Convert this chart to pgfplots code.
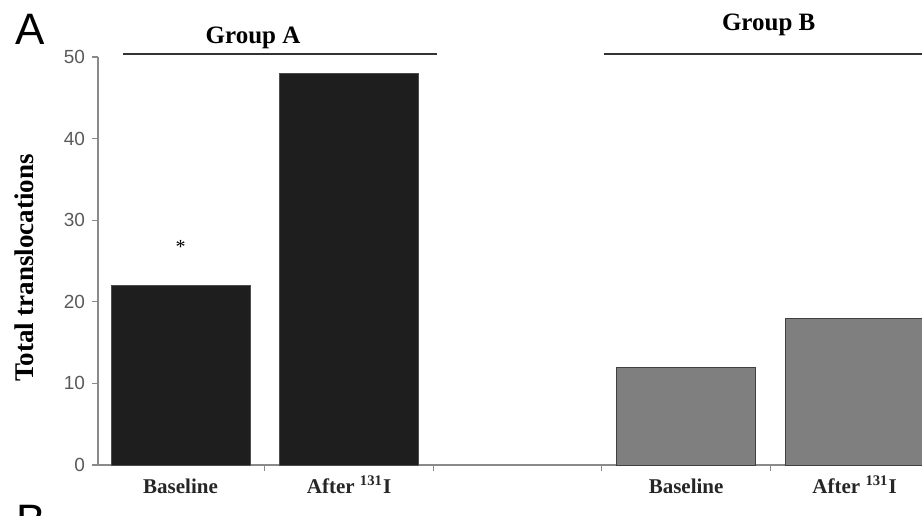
\documentclass[border=0pt]{standalone}
\usepackage{fontspec}
\setmainfont{Liberation Serif}
\newfontfamily\arial{Liberation Sans}
\usepackage{pgfplots}
\pgfplotsset{compat=1.18}
\definecolor{barblack}{HTML}{1E1E1E}
\definecolor{bargray}{HTML}{7F7F7F}
\definecolor{axgray}{HTML}{8A8A8A}
\definecolor{ticktext}{HTML}{5A5A5A}
\begin{document}
\begin{tikzpicture}
\useasboundingbox (0,0) rectangle (461pt,257.5pt);
\begin{axis}[
 at={(49pt,25pt)}, anchor=south west,
 scale only axis, width=412pt, height=204pt,
 xmin=-0.49, xmax=4.4, ymin=0, ymax=50,
 axis x line=bottom, axis y line=left,
 axis line style={-, axgray, line width=0.8pt},
 clip=false,
 ytick={0,10,20,30,40,50},
 yticklabel style={font=\arial\fontsize{9.5}{10}\selectfont, text=ticktext},
 /pgf/number format/assume math mode=true,
 tick align=outside,
 major tick length=3pt,
 tick style={axgray, line width=0.6pt},
 xtick={0.5,1.5,2.5,3.5},
 xticklabels={},
 extra x ticks={0,1,3,4},
 extra x tick labels={Baseline, After \textsuperscript{131}I, Baseline, After \textsuperscript{131}I},
 extra x tick style={major tick length=0pt, xticklabel style={font=\bfseries\fontsize{10.5}{12}\selectfont, text=black!85, anchor=base, yshift=-14pt}},
]
\addplot[ybar, bar width=69.5pt, bar shift=0pt, fill=barblack, draw=black!70] coordinates {(0,22) (1,48)};
\addplot[ybar, bar width=69.5pt, bar shift=0pt, fill=bargray, draw=black!75] coordinates {(3,12) (4,18)};
\node[anchor=base, font=\fontsize{10}{12}\selectfont] at (axis cs:0,25.9) {*};
\draw[line width=1.2pt, black!80] (axis cs:-0.34,50.4) -- (axis cs:1.52,50.4);
\draw[line width=1.2pt, black!80] (axis cs:2.51,50.4) -- (axis cs:4.42,50.4);
\node[anchor=base, font=\bfseries\fontsize{12.5}{14}\selectfont] at (axis cs:0.43,51.7) {Group A};
\node[anchor=base, font=\bfseries\fontsize{12.5}{14}\selectfont] at (axis cs:3.49,53.2) {Group B};
\end{axis}
\node[rotate=90, font=\bfseries\fontsize{13.5}{15}\selectfont] at (12pt,123.5pt) {Total translocations};
\node[anchor=base west, inner sep=0pt, font=\arial\fontsize{22}{24}\selectfont] at (7.5pt,235pt) {A};
\node[anchor=base west, inner sep=0pt, font=\arial\fontsize{22}{24}\selectfont] at (8pt,-10pt) {B};
\end{tikzpicture}
\end{document}
